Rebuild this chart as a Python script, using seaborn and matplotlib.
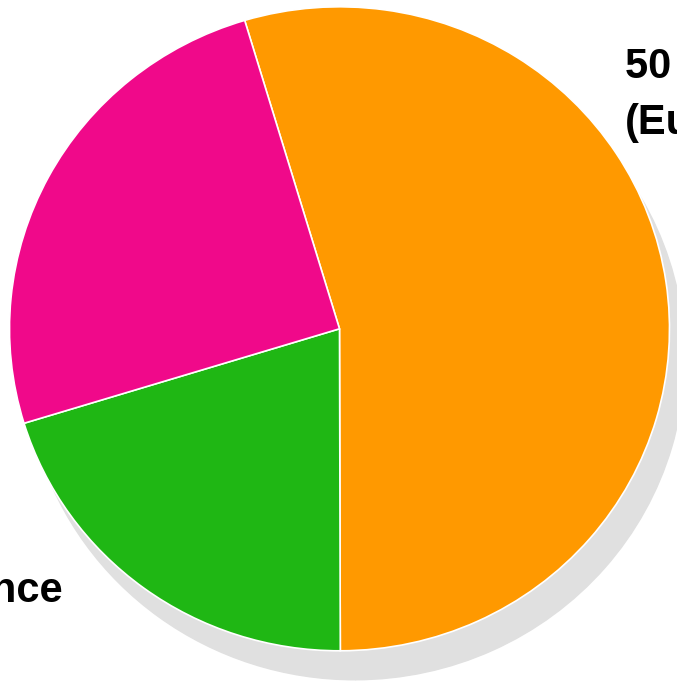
import matplotlib
matplotlib.use('Agg')
import matplotlib.pyplot as plt
import seaborn as sns

# slice data, clockwise from the top-left boundary
categories = ['Europe', 'France', 'Other']
shares = [54.6, 20.3, 25.1]
label_head = ['50', '', '']
colors = ['#ff9900', '#1fb714', '#f0098a']
shadow_color = '#e0e0e0'

sns.set_theme(style='white')
plt.rcParams['font.family'] = ['Liberation Sans', 'DejaVu Sans']

fig = plt.figure(figsize=(6.77, 6.83), dpi=100)
ax = fig.add_axes([0, 0, 1, 1])

start = 106.7
# drop shadow: the same pie, grey, shifted down-right
ax.pie(shares, colors=[shadow_color] * len(shares), startangle=start,
       counterclock=False, radius=1, center=(0.046, -0.09),
       wedgeprops=dict(edgecolor=shadow_color, linewidth=1))
ax.pie(shares, colors=colors, startangle=start, counterclock=False, radius=1,
       wedgeprops=dict(edgecolor='white', linewidth=1.2))

# the chart is cropped: only pieces of the outside labels are visible
ax.text(0.865, 0.605, f'{label_head[0]} %\n({categories[0]})', ha='left',
        va='baseline', fontsize=30, fontweight='bold', color='black',
        linespacing=1.5)
ax.text(-0.838, -0.848, categories[1], ha='right', va='baseline',
        fontsize=30, fontweight='bold', color='black')

# the reference pie is slightly squashed vertically
ax.set_aspect('auto')
ax.set_xlim(-339.5 / 330, 337.5 / 330)
ax.set_ylim(-354.2 / 322, 328.8 / 322)
ax.axis('off')

fig.savefig('out.png', dpi=100)
